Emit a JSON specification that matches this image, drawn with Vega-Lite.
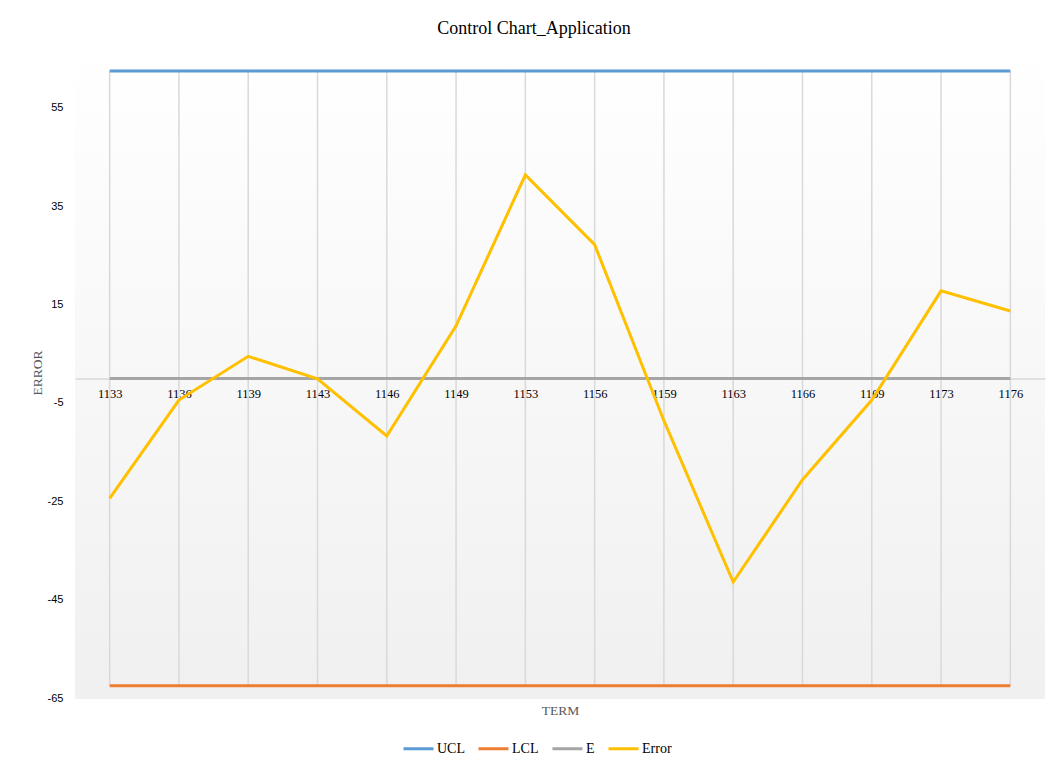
{
  "$schema": "https://vega.github.io/schema/vega-lite/v6.json",
  "width": 970,
  "height": 653,
  "autosize": {"type": "none"},
  "padding": {"left": 75, "top": 46, "right": 4, "bottom": 69},
  "background": "#ffffff",
  "title": {
    "text": "Control Chart_Application",
    "font": "Liberation Serif",
    "fontSize": 18,
    "fontWeight": "normal",
    "color": "#000000",
    "anchor": "middle",
    "frame": "group",
    "dx": -26,
    "offset": 8
  },
  "config": {
    "view": {
      "stroke": null,
      "fill": {
        "gradient": "linear",
        "x1": 0, "y1": 0, "x2": 0, "y2": 1,
        "stops": [
          {"offset": 0, "color": "#ffffff"},
          {"offset": 1, "color": "#f0f0f0"}
        ]
      }
    }
  },
  "data": {
    "values": [
      {"term": "1133", "UCL": 62.5, "LCL": -62.5, "E": 0, "Error": -24.4},
      {"term": "1136", "UCL": 62.5, "LCL": -62.5, "E": 0, "Error": -4.4},
      {"term": "1139", "UCL": 62.5, "LCL": -62.5, "E": 0, "Error": 4.5},
      {"term": "1143", "UCL": 62.5, "LCL": -62.5, "E": 0, "Error": -0.1},
      {"term": "1146", "UCL": 62.5, "LCL": -62.5, "E": 0, "Error": -11.7},
      {"term": "1149", "UCL": 62.5, "LCL": -62.5, "E": 0, "Error": 10.7},
      {"term": "1153", "UCL": 62.5, "LCL": -62.5, "E": 0, "Error": 41.4},
      {"term": "1156", "UCL": 62.5, "LCL": -62.5, "E": 0, "Error": 27.2},
      {"term": "1159", "UCL": 62.5, "LCL": -62.5, "E": 0, "Error": -8.6},
      {"term": "1163", "UCL": 62.5, "LCL": -62.5, "E": 0, "Error": -41.4},
      {"term": "1166", "UCL": 62.5, "LCL": -62.5, "E": 0, "Error": -20.6},
      {"term": "1169", "UCL": 62.5, "LCL": -62.5, "E": 0, "Error": -4.4},
      {"term": "1173", "UCL": 62.5, "LCL": -62.5, "E": 0, "Error": 17.8},
      {"term": "1176", "UCL": 62.5, "LCL": -62.5, "E": 0, "Error": 13.7}
    ]
  },
  "encoding": {
    "x": {
      "field": "term",
      "type": "ordinal",
      "scale": {"type": "point", "padding": 0.5},
      "axis": {
        "title": "TERM",
        "titleFont": "Liberation Serif",
        "titleFontSize": 13.5,
        "titleFontWeight": "normal",
        "titleColor": "#595959",
        "titleY": 325,
        "titleBaseline": "top",
        "offset": {"expr": "scale('y', 0) - height"},
        "domainColor": "#d9d9d9",
        "domainWidth": 1.5,
        "ticks": false,
        "grid": false,
        "labelAngle": 0,
        "labelFont": "Liberation Serif",
        "labelFontSize": 12.5,
        "labelColor": "#000000",
        "labelPadding": 9
      }
    }
  },
  "layer": [
    {
      "mark": {"type": "rule", "color": "#d9d9d9", "strokeWidth": 1.5},
      "encoding": {
        "y": {"field": "UCL", "type": "quantitative"},
        "y2": {"field": "LCL"}
      }
    },
    {
      "transform": [{"fold": ["UCL", "LCL", "E", "Error"], "as": ["series", "value"]}],
      "mark": {"type": "line", "strokeWidth": 3},
      "encoding": {
        "y": {
          "field": "value",
          "type": "quantitative",
          "scale": {"domain": [-65.2, 67.6], "nice": false, "zero": false},
          "axis": {
            "title": "ERROR",
            "titleFont": "Liberation Serif",
            "titleFontSize": 13.5,
            "titleFontWeight": "normal",
            "titleColor": "#595959",
            "titlePadding": 3,
            "values": [-65, -45, -25, -5, 15, 35, 55],
            "labelExpr": "'' + datum.value",
            "domain": false,
            "ticks": false,
            "grid": false,
            "labelFont": "Liberation Sans",
            "labelFontSize": 11,
            "labelColor": "#000000",
            "labelPadding": 12
          }
        },
        "color": {
          "field": "series",
          "type": "nominal",
          "scale": {
            "domain": ["UCL", "LCL", "E", "Error"],
            "range": ["#5b9bd5", "#ed7d31", "#a5a5a5", "#ffc000"]
          },
          "legend": {
            "title": null,
            "orient": "none",
            "direction": "horizontal",
            "legendX": 327,
            "legendY": 686,
            "symbolType": "stroke",
            "symbolSize": 900,
            "symbolStrokeWidth": 3,
            "labelFont": "Liberation Serif",
            "labelFontSize": 14,
            "labelColor": "#000000",
            "labelOffset": 2,
            "columnPadding": 7
          }
        }
      }
    }
  ]
}
